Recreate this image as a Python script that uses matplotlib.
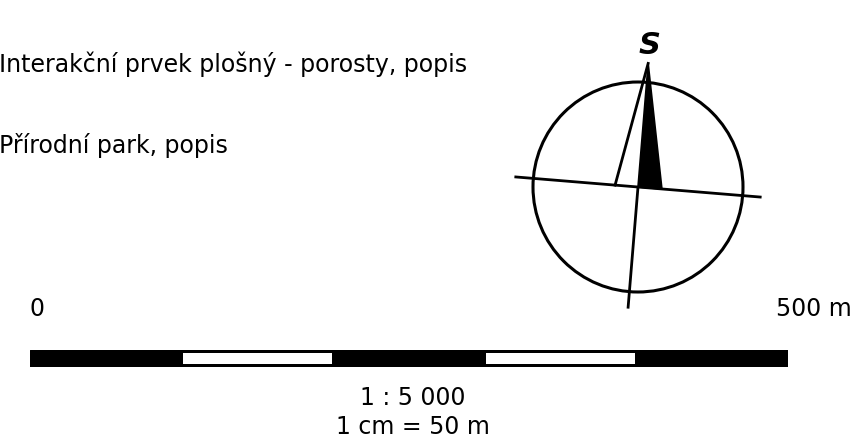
import numpy as np
import matplotlib
matplotlib.use("Agg")
import matplotlib.pyplot as plt
from matplotlib.patches import Circle, Polygon, Rectangle

# popisky legendy
popisky = ["Interakční prvek plošný - porosty, popis", "Přírodní park, popis"]
popisky_y = [64, 146]

# grafické měřítko (metry)
meritko_hranice = [0, 100, 200, 300, 400, 500]
meritko_barvy = ["black", "white", "black", "white", "black"]
meritko_popisky = ["0", "500 m"]
meritko_text = ["1 : 5 000", "1 cm = 50 m"]

# severka
sever_znak = "S"
sever_uhel = 4.7  # stupně

W, H = 854, 447
fig = plt.figure(figsize=(W / 100, H / 100), dpi=100)
fig.patch.set_facecolor("white")

rodina = ["DejaVu Sans"]
vel = 17

# hlavní osy v pixelech
ax = fig.add_axes([0, 0, 1, 1])
ax.set_xlim(0, W)
ax.set_ylim(H, 0)
ax.axis("off")

for txt, y in zip(popisky, popisky_y):
    ax.text(-1, y, txt, ha="left", va="center", fontsize=vel, family=rodina)

for txt, y in zip(meritko_text, [398, 427]):
    ax.text(413, y, txt, ha="center", va="center", fontsize=vel, family=rodina)

# severka
cx, cy, r = 638, 187, 105
t = np.radians(sever_uhel)
u = np.array([np.sin(t), -np.cos(t)])   # nahoru
v = np.array([np.cos(t), np.sin(t)])    # doprava
c = np.array([cx, cy])
ax.add_patch(Circle((cx, cy), r, fill=False, lw=2.2, ec="black"))
a, b = c - 124 * v, c + 124 * v
ax.plot([a[0], b[0]], [a[1], b[1]], color="black", lw=2.0, solid_capstyle="butt")
dole = c - 122 * u
ax.plot([cx, dole[0]], [cy, dole[1]], color="black", lw=2.0, solid_capstyle="butt")
spicka = c + 124 * u
ax.add_patch(Polygon([spicka, c, c + 24 * v], closed=True, fc="black", ec="black", lw=1.2))
bila = c - 23 * v
ax.plot([spicka[0], bila[0]], [spicka[1], bila[1]], color="black", lw=2.0)
ax.text(650, 45, sever_znak, ha="center", va="center", fontsize=22,
        fontweight="bold", fontstyle="italic", family="DejaVu Sans")

# osa měřítka v metrech
sx0, sx1, sy0, sy1 = 30, 788, 350, 367
axm = fig.add_axes([sx0 / W, 1 - sy1 / H, (sx1 - sx0) / W, (sy1 - sy0) / H])
axm.set_xlim(meritko_hranice[0], meritko_hranice[-1])
axm.set_ylim(0, 1)
axm.axis("off")
axm.add_patch(Rectangle((0, 0), meritko_hranice[-1], 1, fc="black", ec="black", lw=1))
for x0, x1, barva in zip(meritko_hranice[:-1], meritko_hranice[1:], meritko_barvy):
    if barva == "white":
        axm.add_patch(Rectangle((x0 + 1, 0.18), x1 - x0 - 2, 0.64, fc="white", ec="none"))
axm.text(meritko_hranice[0], 3.4, meritko_popisky[0], ha="left", va="center",
         fontsize=vel, family=rodina, clip_on=False)
# popisek konce měřítka - zarovnaný k pravému okraji obrázku
ax.text(W - 2, 309, meritko_popisky[1], ha="right", va="center",
        fontsize=vel, family=rodina)

fig.savefig("out.png", dpi=100, facecolor="white")
